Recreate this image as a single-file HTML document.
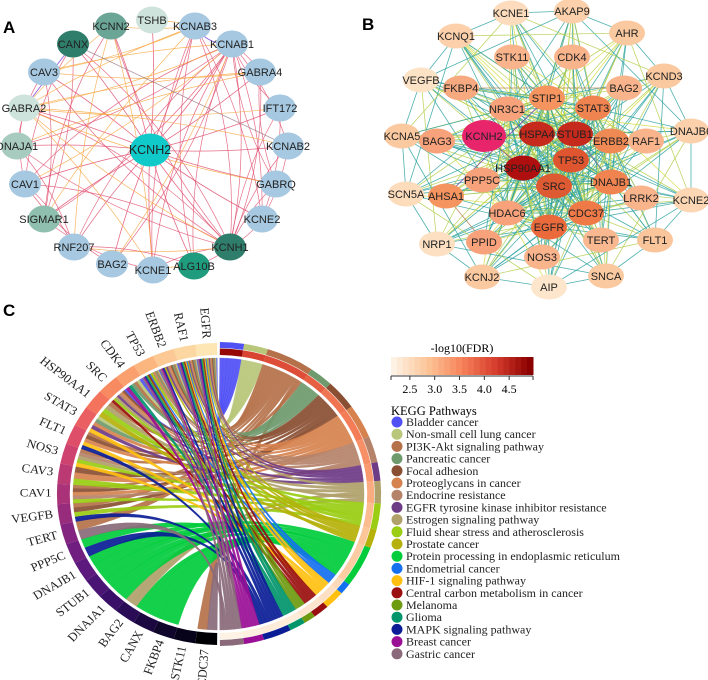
<!DOCTYPE html>
<html><head><meta charset="utf-8">
<style>
html,body{margin:0;padding:0;background:#fff;}
svg{display:block;}
.sans{font-family:"Liberation Sans",sans-serif;}
.serif{font-family:"Liberation Serif",serif;}
</style></head>
<body>
<svg id="fig" width="708" height="680" viewBox="0 0 708 680" xmlns="http://www.w3.org/2000/svg">
<text x="3" y="33" class="sans" font-size="17" font-weight="bold">A</text>
<text x="362" y="30" class="sans" font-size="17" font-weight="bold">B</text>
<text x="3" y="316" class="sans" font-size="17" font-weight="bold">C</text>
<g id="netA"></g>
<g id="netB"></g>
<g id="chord" transform="translate(218.5,494) scale(1.07,1) translate(-218.5,-494)"></g>
<g id="legend"></g>
</svg>
<script>
const NS='http://www.w3.org/2000/svg';
function mk(tag,attrs,parent){const e=document.createElementNS(NS,tag);for(const k in attrs)e.setAttribute(k,attrs[k]);parent.appendChild(e);return e;}

// ---------- Panel A ----------
const aNames=['KCNH2','KCNN2','TSHB','KCNAB3','CANX','KCNAB1','CAV3','GABRA4','GABRA2','IFT172','DNAJA1','KCNAB2','CAV1','GABRQ','SIGMAR1','KCNE2','RNF207','KCNH1','BAG2','KCNE1','ALG10B'];
const aPos=[[150,150],[111,26],[152,20],[195,26],[73,44],[232,44],[44,72],[260,72],[24,108],[280,108],[17,146],[288,146],[25,184],[276,184],[44,219],[262,219],[74,247],[230,247],[112,264],[153,270],[194,266]];
const aCol=['#10c9c9','#6aa596','#cfe3dd','#a6c8e0','#2f7d6b','#a6c8e0','#a6c8e0','#a6c8e0','#cfe3dd','#a6c8e0','#a8cbbf','#a6c8e0','#a6c8e0','#a6c8e0','#8fbfaf','#a6c8e0','#a6c8e0','#2f7d6b','#a6c8e0','#a6c8e0','#1f9b7e'];
const aRed=[[5,17],[5,19],[5,18],[5,16],[5,14],[5,12],[5,15],[5,13],[5,11],[5,9],[5,7],[5,20],[5,10],[17,3],[17,1],[17,4],[17,6],[17,8],[17,10],[17,12],[17,9],[17,7],[17,11],[17,15],[17,13],[17,19],[17,20],[3,19],[3,15],[3,20],[6,14],[12,18],[10,16],[14,19],[16,20],[4,12],[4,14],[1,14],[11,15],[7,13],[9,15],[6,10],[12,16],[8,12]];
const aOrg=[[8,7],[8,5],[8,3],[8,9],[8,11],[8,13],[8,1],[8,17],[8,19],[6,7],[6,5],[6,3],[2,3],[1,3],[1,19],[1,16],[10,7],[12,5],[14,3],[16,17],[19,20],[18,5]];
(function(){
 const g=document.getElementById('netA');
 function edge(p,q,col,w,bend){const [x1,y1]=aPos[p],[x2,y2]=aPos[q];const mx=(x1+x2)/2,my=(y1+y2)/2;const dx=x2-x1,dy=y2-y1;
  const cx=mx-dy*bend,cy=my+dx*bend;
  const e=mk('path',{d:`M${x1},${y1} Q${cx},${cy} ${x2},${y2}`,fill:'none',stroke:col,'stroke-width':w,'stroke-opacity':0.8},g);
  
  }
 for(let i=1;i<aNames.length;i++)edge(0,i,'#e0486a',0.8,0.04);
 aRed.forEach(([p,q],k)=>edge(p,q,'#e0486a',0.7,(k%2?0.12:-0.1)));
 aOrg.forEach(([p,q],k)=>edge(p,q,'#f7a43a',0.7,(k%2?0.06:-0.05)));
 edge(4,8,'#7a3ae0',0.9,0);edge(3,5,'#7a3ae0',0.9,0.3);edge(4,11,'#9a7a8a',0.8,0);
 aNames.forEach((n,i)=>{const [x,y]=aPos[i];const big=i===0;
  const el=mk('ellipse',{cx:x,cy:y,rx:big?20:16,ry:big?16.5:13.5,fill:aCol[i]},g);
  
  
  const t=mk('text',{x:x,y:y+4,'text-anchor':'middle','font-size':big?12.5:11,fill:'#222',class:'sans'},g);t.textContent=n;
  
  });
})();

// ---------- Panel B ----------
const bNames=['KCNE1','AKAP9','KCNQ1','AHR','STK11','CDK4','KCND3','VEGFB','FKBP4','BAG2','STIP1','NR3C1','STAT3','DNAJB6','KCNA5','BAG3','KCNH2','HSPA4','STUB1','ERBB2','RAF1','TP53','HSP90AA1','PPP5C','SRC','DNAJB1','SCN5A','AHSA1','LRRK2','KCNE2','HDAC6','CDC37','EGFR','NRP1','PPID','TERT','FLT1','NOS3','KCNJ2','SNCA','AIP'];
const bPos=[[511,13],[572,11],[456,36],[627,33],[512,57],[572,57],[664,76],[421,80],[461,88],[624,88],[547,98],[507,109],[593,108],[691,131],[402,136],[437,141],[484,136],[537,134],[575,134],[611,141],[646,141],[571,160],[523,168],[482,180],[554,186],[611,182],[406,194],[446,196],[641,198],[691,200],[507,213],[586,213],[549,227],[437,244],[484,242],[601,240],[655,240],[542,257],[482,277],[606,276],[549,287]];
const bCol=['#fcdcbc','#fbd0aa','#fbd0aa','#fbc9a0','#f9b48c','#f9b48c','#fbc9a0','#fde3c6','#f7a97f','#f9b48c','#f5945f','#f7a27a','#f08450','#fbd0aa','#fbc9a0','#f7a27a','#e8246a','#c52a1c','#c52a1c','#f08a55','#f9b48c','#de5530','#b00f0f','#f7a27a','#de5a32','#f08450','#fddcbc','#f5945f','#f9b48c','#fdd6b4','#f7a27a','#ef7a48','#ea6a3c','#fde0c2','#f7a27a','#f9b890','#fbc59c','#f9b48c','#fbc9a0','#fbc9a0','#fde6cc'];
const bHubs=[17,18,22,21,24,32,12,10,25,31,30,19,11];
(function(){
 const g=document.getElementById('netB');
 const cols=['#2ea3a0','#b5cf50','#4fb09a','#d6dc40'];
 function line(p,q,c){const [x1,y1]=bPos[p],[x2,y2]=bPos[q];
  const e=mk('line',{x1,y1,x2,y2,stroke:c,'stroke-width':0.8,'stroke-opacity':0.85},g);
  
  }
 bNames.forEach((n,i)=>{bHubs.forEach((h,j)=>{if(h===i)return;if((i*7+j*3)%4===0)return;line(i,h,cols[(i+j)%3===0?1:((i+j)%5===0?3:0)]);});});
 const ring=[0,1,3,6,13,29,36,39,40,38,33,26,14,7,2];
 ring.forEach((a,k)=>{line(a,ring[(k+1)%ring.length],cols[0]);line(a,ring[(k+3)%ring.length],cols[k%2?0:1]);});
 [[22,16,'#8a3aa0'],[10,27,'#8a3aa0'],[8,9,'#b07a4a'],[27,34,'#b07a4a'],[18,25,'#8a6aa0']].forEach(([p,q,c])=>line(p,q,c));
 bNames.forEach((n,i)=>{const [x,y]=bPos[i];const k=i===16;
  const el=mk('ellipse',{cx:x,cy:y,rx:k?22:18,ry:k?16:12.5,fill:bCol[i]},g);
  
  
  const t=mk('text',{x:x,y:y+4,'text-anchor':'middle','font-size':11,fill:'#222',class:'sans'},g);t.textContent=n;
  
  });
})();

// ---------- Panel C: chord ----------
const genes=['EGFR','RAF1','ERBB2','TP53','CDK4','SRC','HSP90AA1','STAT3','FLT1','NOS3','CAV3','CAV1','VEGFB','TERT','PPP5C','DNAJB1','STUB1','DNAJA1','BAG2','CANX','FKBP4','STK11','CDC37'];
const geneColors=['#fde5b4','#fcd7a2','#fcc893','#fbb57f','#fa9f6e','#f88a62','#f3735c','#ea5f61','#de4e68','#cd426e','#bc3a74','#aa3279','#972b7c','#832580','#701f81','#5d197e','#4a1475','#390f68','#2a0b55','#1c0840','#10062b','#07031a','#000004'];
const pathways=['Bladder cancer','Non-small cell lung cancer','PI3K-Akt signaling pathway','Pancreatic cancer','Focal adhesion','Proteoglycans in cancer','Endocrine resistance','EGFR tyrosine kinase inhibitor resistance','Estrogen signaling pathway','Fluid shear stress and atherosclerosis','Prostate cancer','Protein processing in endoplasmic reticulum','Endometrial cancer','HIF-1 signaling pathway','Central carbon metabolism in cancer','Melanoma','Glioma','MAPK signaling pathway','Breast cancer','Gastric cancer'];
const pathwayColors=['#5050f5','#b8c77a','#b5714a','#6f9a6e','#8a4f33','#d6824e','#b5836a','#6e3b86','#b0a06a','#9acd14','#b5b10a','#00cc3c','#1570f0','#ffc010','#9a0f0f','#6e9a10','#00956a','#0a1c96','#9a0f96','#8a6a7a'];
const pathwayFDR=[4.9,4.2,4.1,3.9,3.7,3.6,3.4,3.3,3.1,2.9,2.8,2.7,2.5,2.4,2.3,2.3,2.2,2.2,2.15,2.1];
const pathwayGenes=[
 [0,1,2,3,4,5],
 [0,1,2,3,4,7],
 [0,1,2,3,4,6,8,11,12,13,22,9],
 [0,1,2,3,4,7],
 [0,1,2,5,8,11,12,10],
 [0,1,2,3,5,7,8,10,11],
 [0,1,2,3,5,11,9],
 [0,1,2,5,7],
 [0,6,9,18,5,18],
 [6,9,10,11,3,5,12],
 [0,1,2,6,3],
 [15,16,17,15,16,17,19,19,20,18,14],
 [0,1,3],
 [0,1,7,9,8],
 [0,1,3,5],
 [0,1,3],
 [0,1,3,4],
 [0,1,2,3,8,12,14],
 [0,1,2,3,4],
 [0,1,2,3,13,22]];
const ticks=[2.5,3.0,3.5,4.0,4.5];
(function(){
 const g=document.getElementById('chord');
 const cx=218.5,cy=494,R0=139,R1=151,Rr=136;
 const rad=d=>d*Math.PI/180;
 const P=(r,d)=>[cx+r*Math.sin(rad(d)),cy-r*Math.cos(rad(d))];
 const f=p=>p[0].toFixed(2)+','+p[1].toFixed(2);
 function arcBand(r0,r1,a,b){const l=(b-a)>180?1:0;return `M${f(P(r1,a))} A${r1},${r1} 0 ${l} 1 ${f(P(r1,b))} L${f(P(r0,b))} A${r0},${r0} 0 ${l} 0 ${f(P(r0,a))} Z`;}
 const links=[];pathwayGenes.forEach((gl,p)=>gl.forEach(gi=>links.push({p,g:gi})));
 const N=links.length;const pStep=179/N;
 let idx=0;const pArc=[];
 pathwayGenes.forEach((gl,p)=>{const s=0.5+idx*pStep;pArc.push([s,s+gl.length*pStep]);idx+=gl.length;});
 idx=0;links.forEach(L=>{L.b1=0.5+idx*pStep;L.b2=L.b1+pStep;idx++;});
 const gStep=179/genes.length;
 genes.forEach((gn,gi)=>{
   const gs=359.5-(gi+1)*gStep, ge=359.5-gi*gStep;
   const mine=links.filter(L=>L.g===gi).sort((a,b)=>b.b1-a.b1);
   const w=(ge-gs)/Math.max(1,mine.length);
   mine.forEach((L,j)=>{L.a1=gs+j*w;L.a2=L.a1+w;});
 });
 links.forEach(L=>{
   const d=`M${f(P(Rr,L.a1))} A${Rr},${Rr} 0 0 1 ${f(P(Rr,L.a2))} Q${cx},${cy} ${f(P(Rr,L.b1))} A${Rr},${Rr} 0 0 1 ${f(P(Rr,L.b2))} Q${cx},${cy} ${f(P(Rr,L.a1))} Z`;
   const e=mk('path',{d,fill:pathwayColors[L.p],'fill-opacity':0.92,stroke:pathwayColors[L.p],'stroke-width':0.3},g);
   
   
 });
 genes.forEach((gn,gi)=>{
   const a=359.5-(gi+1)*gStep,b=359.5-gi*gStep;
   const e=mk('path',{d:arcBand(R0,R1,a,b),fill:geneColors[gi]},g);
   
   
   const m=(a+b)/2;const p=P(R1+5,m);
   const t=mk('text',{x:p[0],y:p[1],'text-anchor':'end','dominant-baseline':'middle','font-size':12,class:'serif',fill:'#222',transform:`rotate(${m-270} ${p[0]} ${p[1]})`},g);
   t.textContent=gn;
   
   
 });
 function fdrColor(v){const t=Math.max(0,Math.min(1,(v-2.1)/2.9));
  const stops=[[253,242,228],[252,196,150],[246,130,90],[214,60,45],[139,0,0]];
  const s=t*(stops.length-1),i=Math.min(stops.length-2,Math.floor(s)),u=s-i;
  const c=stops[i].map((x,k)=>Math.round(x+(stops[i+1][k]-x)*u));return `rgb(${c})`;}
 pathways.forEach((pn,p)=>{const [a,b]=pArc[p];
   const e1=mk('path',{d:arcBand(R0,145.5,a,b),fill:fdrColor(pathwayFDR[p])},g);
   
   
   const e2=mk('path',{d:arcBand(146,R1+1,a,b),fill:pathwayColors[p]},g);
   
   
 });
})();

// ---------- Legend ----------
(function(){
 const g=document.getElementById('legend');
 const x0=391,x1=533,y0=357,y1=375,vmin=2.12,vmax=4.98;
 const sx=v=>x0+(v-vmin)/(vmax-vmin)*(x1-x0);
 const t=mk('text',{x:462,y:352,'text-anchor':'middle','font-size':12,class:'serif'},g);t.textContent='-log10(FDR)';
 
 
 const nSteps=24;
 for(let i=0;i<nSteps;i++){
  const stops=[[253,242,228],[252,196,150],[246,130,90],[214,60,45],[139,0,0]];
  const tt=i/(nSteps-1),s=tt*(stops.length-1),k=Math.min(stops.length-2,Math.floor(s)),u=s-k;
  const c=stops[k].map((x,j)=>Math.round(x+(stops[k+1][j]-x)*u));
  const r=mk('rect',{x:x0+i*(x1-x0)/nSteps,y:y0,width:(x1-x0)/nSteps+0.5,height:y1-y0,fill:`rgb(${c})`},g);
  
  }
 mk('line',{x1:x0,y1:y1+1,x2:x1,y2:y1+1,stroke:'#333','stroke-width':1},g);
 [vmin,...ticks,vmax].forEach(v=>mk('line',{x1:sx(v),y1:y1+1,x2:sx(v),y2:y1+5,stroke:'#333'},g));
 ticks.forEach(v=>{const tx=mk('text',{x:sx(v),y:393,'text-anchor':'middle','font-size':12,class:'serif'},g);tx.textContent=v.toFixed(1);
  
  });
 const h=mk('text',{x:391,y:415,'font-size':12.5,class:'serif'},g);h.textContent='KEGG Pathways';
 
 
 pathways.forEach((pn,i)=>{const y=422+i*12.2;
  const c=mk('circle',{cx:397,cy:y,r:5.5,fill:pathwayColors[i]},g);
  
  
  const tx=mk('text',{x:406,y:y+4,'font-size':12,class:'serif',fill:'#222'},g);tx.textContent=pn;
  
  });
})();
</script>
</body></html>
